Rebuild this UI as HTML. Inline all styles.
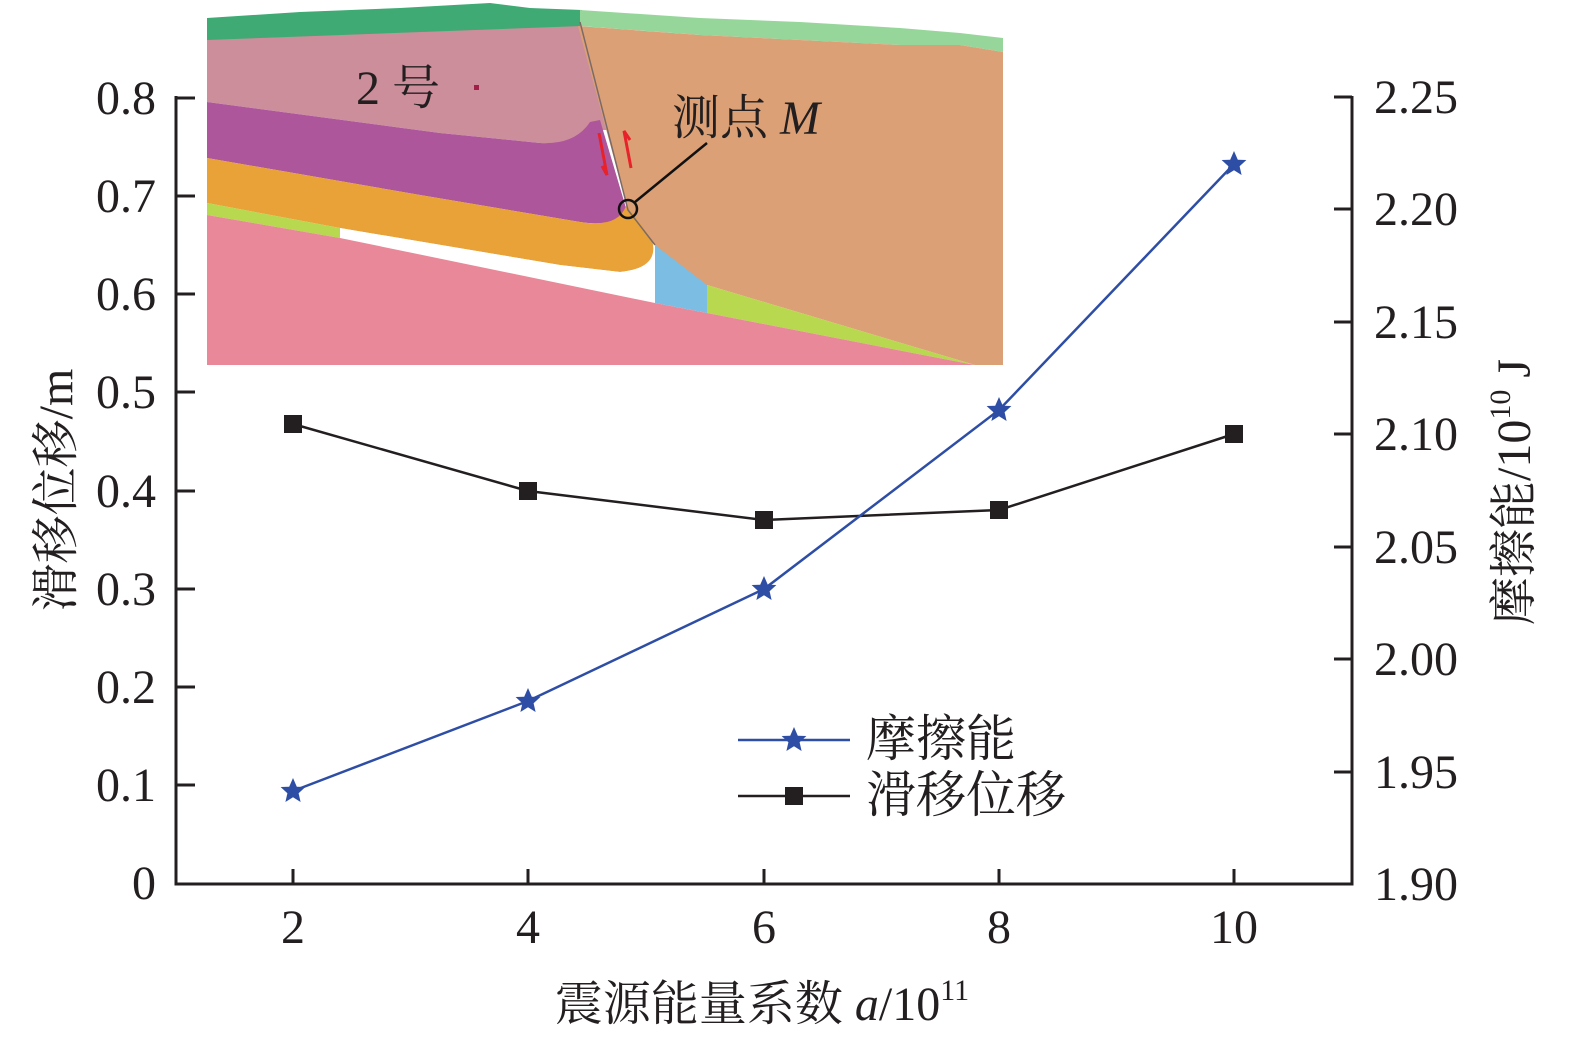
<!DOCTYPE html>
<html><head><meta charset="utf-8"><style>
html,body{margin:0;padding:0;background:#fff;}
svg{display:block;}
.t{font-family:"Liberation Serif","Noto Serif CJK SC",serif;fill:#231f20;}
</style></head><body>
<svg width="1575" height="1041" viewBox="0 0 1575 1041" xmlns="http://www.w3.org/2000/svg">
<g>
<rect x="207" y="5" width="796" height="360" fill="#fff"/>
<path d="M207,18 L300,12 L400,8 L490,3 L530,8 L582,10 L582,40 L207,42 Z" fill="#3faa74"/>
<path d="M580,10 L700,18 L800,22 L900,28 L960,33 L1003,38 L1003,52 L960,45 L900,45 L800,40 L700,35 L580,26 Z" fill="#97d69b"/>
<path d="M207,40 L582,26 L615,130 L590,130 Q575,145 540,143 L440,133 L207,102 Z" fill="#cc8e9b"/>
<path d="M578,26 L700,35 L800,40 L900,45 L960,45 L1003,52 L1003,365 L975,365 L707,285 L707,313 L655,245 L628,210 Z" fill="#dba075"/>
<path d="M207,102 L440,133 L540,143 Q575,145 590,122 L600,120 L626,208 Q618,228 580,222 L420,195 L207,158 Z" fill="#ad569c"/>
<path d="M207,158 L420,195 L580,222 Q618,228 626,206 L632,212 L652,240 Q660,268 620,272 L560,265 L340,228 L207,203 Z" fill="#e8a237"/>
<path d="M207,203 L340,228 L340,238 L207,215 Z" fill="#b8d84f"/>
<path d="M340,228 L560,265 L620,272 Q655,268 655,250 L655,303 L340,238 Z" fill="#fff"/>
<path d="M655,245 L707,285 L707,313 L655,303 Z" fill="#7cbde4"/>
<path d="M707,285 L975,365 L707,313 Z" fill="#b8d84f"/>
<path d="M207,215 L340,238 L655,303 L707,313 L975,365 L207,365 Z" fill="#e98898"/>
<path d="M580,22 L628,210 L655,245" fill="none" stroke="#7a6a6a" stroke-width="1.5"/>
<path d="M599,133 L607,175 L602,166" fill="none" stroke="#e8222a" stroke-width="3"/>
<path d="M631,168 L624,131 L630,140" fill="none" stroke="#e8222a" stroke-width="3"/>
<circle cx="628" cy="209" r="9" fill="none" stroke="#111" stroke-width="2.5"/>
<line x1="635" y1="202" x2="707" y2="143" stroke="#111" stroke-width="2.5"/>
<rect x="474" y="85" width="5" height="5" fill="#a0204a"/>
<text x="356" y="104" class="t" font-size="48">2 号</text>
<text x="672" y="134" class="t" font-size="48">测点 <tspan font-style="italic">M</tspan></text>
</g>
<g stroke="#231f20" stroke-width="3" fill="none">
<path d="M176,96 L176,884 L1352,884 L1352,96"/>
<path d="M176,98 H195 M176,196 H195 M176,294 H195 M176,392 H195 M176,491 H195 M176,589 H195 M176,687 H195 M176,785 H195"/>
<path d="M1352,97 H1334 M1352,209 H1334 M1352,322 H1334 M1352,434 H1334 M1352,547 H1334 M1352,659 H1334 M1352,772 H1334"/>
<path d="M293,884 V869 M528,884 V869 M764,884 V869 M999,884 V869 M1234,884 V869"/>
</g>
<g class="t" font-size="48" text-anchor="end">
<text x="156" y="114">0.8</text><text x="156" y="212">0.7</text><text x="156" y="310">0.6</text><text x="156" y="408">0.5</text>
<text x="156" y="507">0.4</text><text x="156" y="605">0.3</text><text x="156" y="703">0.2</text><text x="156" y="801">0.1</text><text x="156" y="899">0</text>
</g>
<g class="t" font-size="48">
<text x="1374" y="113">2.25</text><text x="1374" y="225">2.20</text><text x="1374" y="338">2.15</text><text x="1374" y="450">2.10</text>
<text x="1374" y="563">2.05</text><text x="1374" y="675">2.00</text><text x="1374" y="788">1.95</text><text x="1374" y="900">1.90</text>
</g>
<g class="t" font-size="48" text-anchor="middle">
<text x="293" y="943">2</text><text x="528" y="943">4</text><text x="764" y="943">6</text><text x="999" y="943">8</text><text x="1234" y="943">10</text>
<text x="762" y="1020">震源能量系数 <tspan font-style="italic">a</tspan>/10<tspan font-size="30" dy="-20">11</tspan></text>
</g>
<text class="t" font-size="48" text-anchor="middle" transform="translate(72,490) rotate(-90)">滑移位移/m</text>
<text class="t" font-size="48" text-anchor="middle" transform="translate(1530,492) rotate(-90)">摩擦能/10<tspan font-size="30" dy="-20">10</tspan><tspan dy="20"> J</tspan></text>
<polyline points="293,424 528,491 764,520 999,510 1234,434" fill="none" stroke="#231f20" stroke-width="2.5"/>
<g fill="#231f20">
<rect x="284" y="415" width="18" height="18"/><rect x="519" y="482" width="18" height="18"/><rect x="755" y="511" width="18" height="18"/><rect x="990" y="501" width="18" height="18"/><rect x="1225" y="425" width="18" height="18"/>
</g>
<polyline points="293,791 528,701 764,589 999,410 1234,164" fill="none" stroke="#2e4ea6" stroke-width="2.5"/>
<defs><path id="st" d="M0,-13 L3.8,-4.2 L12.4,-4 L5.6,2.2 L7.6,11 L0,6.2 L-7.6,11 L-5.6,2.2 L-12.4,-4 L-3.8,-4.2 Z" fill="#2e4ea6"/></defs>
<use href="#st" x="293" y="791"/><use href="#st" x="528" y="701"/><use href="#st" x="764" y="589"/><use href="#st" x="999" y="410"/><use href="#st" x="1234" y="164"/>
<line x1="738" y1="740" x2="850" y2="740" stroke="#2e4ea6" stroke-width="2.5"/>
<use href="#st" x="794" y="740"/>
<line x1="738" y1="796" x2="850" y2="796" stroke="#231f20" stroke-width="2.5"/>
<rect x="785" y="787" width="18" height="18" fill="#231f20"/>
<text x="866" y="756" class="t" font-size="50">摩擦能</text>
<text x="866" y="812" class="t" font-size="50">滑移位移</text>
</svg>
</body></html>
